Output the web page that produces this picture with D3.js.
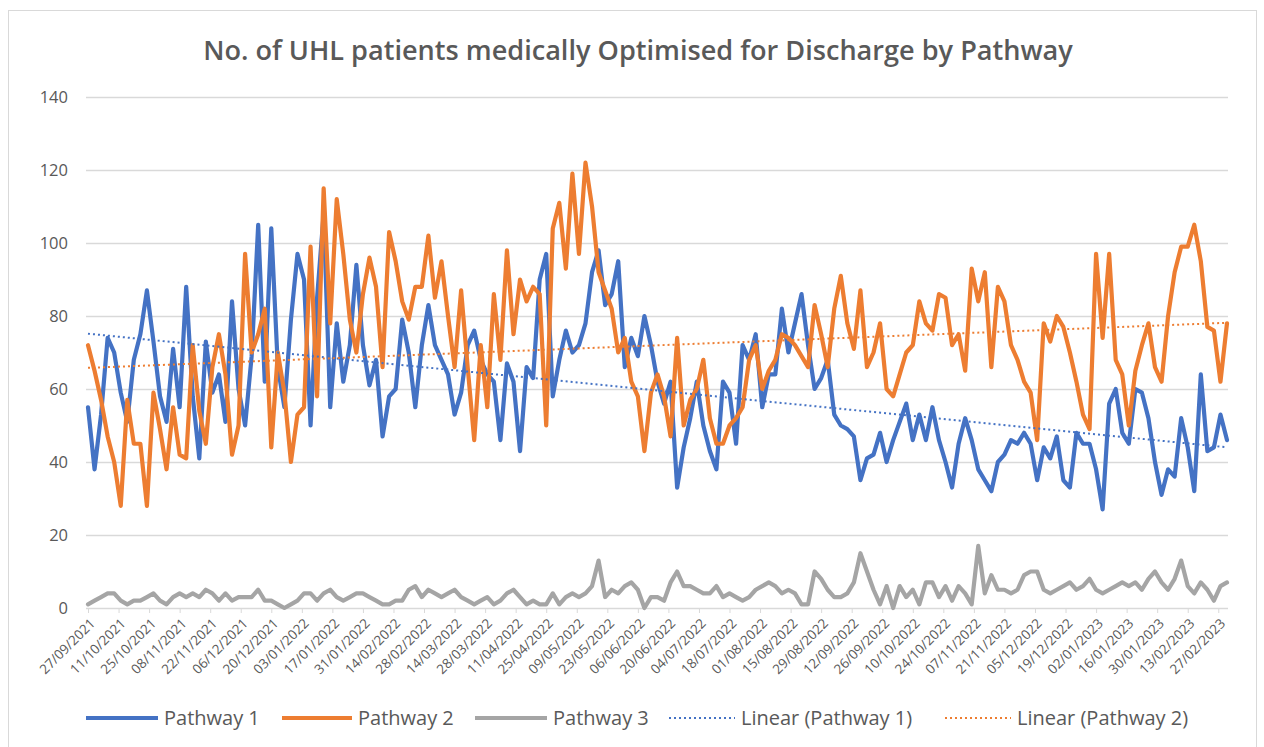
<!DOCTYPE html>
<html>
<head>
<meta charset="utf-8">
<script src="https://d3js.org/d3.v7.min.js"></script>
<style>
    body { margin: 0; background: #fff; }
    text { font-family: "Open Sans", "Liberation Sans", sans-serif; fill: #595959; }
    .grid line { stroke: #d9d9d9; stroke-width: 1.3; }
    .grid .domain { stroke: none; }
    .xaxis line { stroke: #d9d9d9; }
    .xaxis .domain { stroke: none; }
</style>
</head>
<body>
<svg id="chart" width="1264" height="747"></svg>
<script>
// values, one reading every 3 days from 27/09/2021
const stepDays = 3;
const pathway1 = [55,38,53,74,70,59,51,68,75,87,73,58,51,71,55,88,58,41,73,59,64,51,84,60,50,69,105,62,104,66,55,79,97,90,50,
    85,108,55,78,62,72,94,72,61,68,47,58,60,79,70,55,72,83,72,68,64,53,59,72,76,68,64,62,46,67,62,43,66,63,90,
    97,58,68,76,70,72,78,92,98,83,86,95,66,74,69,80,72,62,56,62,33,44,52,62,50,43,38,62,59,45,72,68,75,55,64,
    64,82,70,78,86,72,60,63,68,53,50,49,47,35,41,42,48,40,46,51,56,46,53,46,55,46,40,33,45,52,46,38,35,32,40,
    42,46,45,48,45,35,44,41,47,35,33,48,45,45,38,27,56,60,48,45,60,59,52,40,31,38,36,52,44,32,64,43,44,53,46];
const pathway2 = [72,65,57,47,40,28,57,45,45,28,59,49,38,55,42,41,72,54,45,66,75,64,42,50,97,70,75,82,44,70,59,40,53,55,99,
    58,115,78,112,97,79,70,86,96,88,66,103,95,84,79,88,88,102,85,95,80,66,87,66,46,72,55,86,68,98,75,90,84,88,86,
    50,104,111,93,119,97,122,110,92,87,82,70,74,62,58,43,59,64,58,47,74,50,57,60,68,52,45,45,50,52,55,68,72,60,65,
    68,75,74,72,69,66,83,75,66,82,91,78,71,87,66,70,78,60,58,64,70,72,84,78,76,86,85,72,75,65,93,84,92,66,88,
    84,72,68,62,59,46,78,73,80,77,70,62,53,49,97,74,97,68,64,50,65,72,78,66,62,80,92,99,99,105,95,77,76,62,78];
const pathway3 = [1,2,3,4,4,2,1,2,2,3,4,2,1,3,4,3,4,3,5,4,2,4,2,3,3,3,5,2,2,1,0,1,2,4,4,
    2,4,5,3,2,3,4,4,3,2,1,1,2,2,5,6,3,5,4,3,4,5,3,2,1,2,3,1,2,4,5,3,1,2,1,
    1,4,1,3,4,3,4,6,13,3,5,4,6,7,5,0,3,3,2,7,10,6,6,5,4,4,6,3,4,3,2,3,5,6,7,
    6,4,5,4,1,1,10,8,5,3,3,4,7,15,10,5,1,6,0,6,3,5,1,7,7,3,6,2,6,4,1,17,4,9,5,
    5,4,5,9,10,10,5,4,5,6,7,5,6,8,5,4,5,6,7,6,7,5,8,10,7,5,8,13,6,4,7,5,2,6,7];

const tickLabels = ["27/09/2021","11/10/2021","25/10/2021","08/11/2021","22/11/2021","06/12/2021","20/12/2021",
    "03/01/2022","17/01/2022","31/01/2022","14/02/2022","28/02/2022","14/03/2022","28/03/2022","11/04/2022",
    "25/04/2022","09/05/2022","23/05/2022","06/06/2022","20/06/2022","04/07/2022","18/07/2022","01/08/2022",
    "15/08/2022","29/08/2022","12/09/2022","26/09/2022","10/10/2022","24/10/2022","07/11/2022","21/11/2022",
    "05/12/2022","19/12/2022","02/01/2023","16/01/2023","30/01/2023","13/02/2023","27/02/2023"];
const yTicks = [0, 20, 40, 60, 80, 100, 120, 140];

const seriesNames = ["Pathway 1", "Pathway 2", "Pathway 3"];
const colors = ["#4472C4", "#ED7D31", "#A5A5A5"];

//chart setup
const svg = d3.select("svg#chart");
const parse = d3.utcParse("%d/%m/%Y");
const start = parse(tickLabels[0]);
const dates = pathway1.map((d, i) => d3.utcDay.offset(start, i * stepDays));

const plot = {left: 86, right: 1228, top: 97, bottom: 608};
const lineWidth = 4.2;

const x = d3.scaleUtc()
    .domain([dates[0], dates[dates.length - 1]])
    .range([88, 1227]);
const y = d3.scaleLinear()
    .domain([0, 140])
    .range([plot.bottom, plot.top]);

//border
svg.append("rect")
    .attr("x", 8.5).attr("y", 10.5)
    .attr("width", 1248).attr("height", 760)
    .attr("fill", "none")
    .attr("stroke", "#d9d9d9");

//title
const title = svg.append("text")
    .attr("x", 638)
    .attr("y", 60)
    .attr("text-anchor", "middle")
    .style("font-weight", 600)
    .style("font-size", "26px")
    .text("No. of UHL patients medically Optimised for Discharge by Pathway");
const tw = title.node().getComputedTextLength();
title.style("font-size", (26 * 870 / tw) + "px");

//gridlines + y labels
svg.append("g")
    .attr("class", "grid")
    .attr("transform", `translate(${plot.left},0)`)
    .call(d3.axisLeft(y).tickValues(yTicks).tickSize(-(plot.right - plot.left)).tickPadding(18))
    .selectAll("text")
    .style("font-size", "16.5px")
    .style("fill", "#595959");

//x axis
const xAxis = svg.append("g")
    .attr("class", "xaxis")
    .attr("transform", `translate(0,${plot.bottom})`)
    .call(d3.axisBottom(x)
        .tickValues(tickLabels.map(parse))
        .tickSize(5)
        .tickFormat(d3.utcFormat("%d/%m/%Y")));
xAxis.selectAll("text")
    .attr("x", 0).attr("y", 0)
    .attr("dy", "0.35em")
    .attr("transform", "translate(4,13) rotate(-45)")
    .style("text-anchor", "end")
    .style("font-size", "13.5px")
    .style("fill", "#595959");

//series lines
const line = d3.line()
    .x((d, i) => x(dates[i]))
    .y(d => y(d));

[pathway1, pathway2, pathway3].forEach((values, s) => {
    svg.append("path")
        .datum(values)
        .attr("d", line)
        .attr("fill", "none")
        .attr("stroke", colors[s])
        .attr("stroke-width", lineWidth)
        .attr("stroke-linejoin", "round")
        .attr("stroke-linecap", "round");
});

//linear trendlines (least squares like Excel)
const trend = function(values){
    const n = values.length;
    const mx = d3.mean(values, (d, i) => i);
    const my = d3.mean(values);
    let sxy = 0, sxx = 0;
    values.forEach((v, i) => { sxy += (i - mx) * (v - my); sxx += (i - mx) * (i - mx); });
    const b = sxy / sxx;
    const a = my - b * mx;
    return [[dates[0], a], [dates[n - 1], a + b * (n - 1)]];
};

[pathway1, pathway2].forEach((values, s) => {
    const pts = trend(values);
    svg.append("line")
        .attr("x1", x(pts[0][0])).attr("y1", y(pts[0][1]))
        .attr("x2", x(pts[1][0])).attr("y2", y(pts[1][1]))
        .attr("stroke", colors[s])
        .attr("stroke-width", 2)
        .attr("stroke-dasharray", "2 3");
});

//legend
const legendItems = [
    {label: "Pathway 1", color: colors[0], dash: null, x: 86, len: 72},
    {label: "Pathway 2", color: colors[1], dash: null, x: 282, len: 70},
    {label: "Pathway 3", color: colors[2], dash: null, x: 475, len: 72},
    {label: "Linear (Pathway 1)", color: colors[0], dash: "2 3", x: 669, len: 66},
    {label: "Linear (Pathway 2)", color: colors[1], dash: "2 3", x: 945, len: 66}
];
const legend = svg.append("g").attr("transform", "translate(0,718)");
legendItems.forEach(item => {
    legend.append("line")
        .attr("x1", item.x).attr("x2", item.x + item.len)
        .attr("y1", 0).attr("y2", 0)
        .attr("stroke", item.color)
        .attr("stroke-width", item.dash ? 2 : lineWidth)
        .attr("stroke-dasharray", item.dash);
    legend.append("text")
        .attr("x", item.x + item.len + 6)
        .attr("y", 0)
        .attr("dy", "0.35em")
        .style("font-size", "20px")
        .text(item.label);
});
</script>
</body>
</html>
